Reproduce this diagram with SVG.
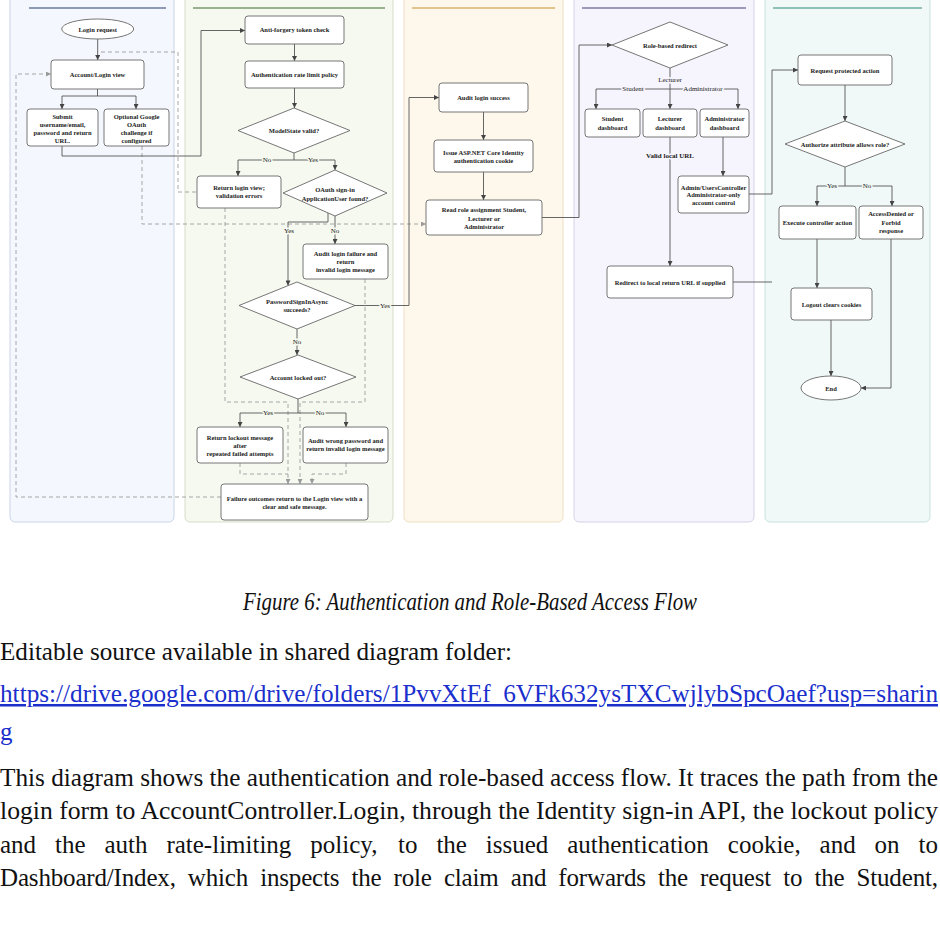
<svg xmlns="http://www.w3.org/2000/svg" width="940" height="947" viewBox="0 0 940 947">
<defs>
<marker id="a" viewBox="0 0 6 6" refX="6" refY="3" markerWidth="5.5" markerHeight="5" markerUnits="userSpaceOnUse" orient="auto"><path d="M0,0 L6,3 L0,6 z" fill="#444"/></marker>
<marker id="ag" viewBox="0 0 6 6" refX="6" refY="3" markerWidth="5.5" markerHeight="5" markerUnits="userSpaceOnUse" orient="auto"><path d="M0,0 L6,3 L0,6 z" fill="#9a9a9a"/></marker>
</defs>
<style>
.t{font-family:"Liberation Serif","Times New Roman",serif;font-size:6.5px;font-weight:bold;fill:#222;text-anchor:middle}
.lb{font-family:"Liberation Serif","Times New Roman",serif;font-size:7px;fill:#222;text-anchor:middle;paint-order:stroke;stroke-width:3;stroke-linejoin:round}
.n{fill:#fff;stroke:#666;stroke-width:0.9}
.e{fill:none;stroke:#555;stroke-width:0.9}
.d{fill:none;stroke:#9c9c9c;stroke-width:0.9;stroke-dasharray:4 3}
.body{font-family:"Liberation Serif","Times New Roman",serif;font-size:25px;fill:#111}
.link{fill:#1a2fcc;text-decoration:underline}
</style>
<g id="lanes">
<rect x="10" y="-10" width="164" height="532" rx="5" fill="#f4f7fd" stroke="#c9d5e8"/>
<line x1="29" y1="8" x2="166" y2="8" stroke="#24406a" stroke-width="1.2"/>
<rect x="185" y="-10" width="208" height="532" rx="5" fill="#f6f9f0" stroke="#d5ddc8"/>
<line x1="193" y1="8" x2="385" y2="8" stroke="#3c6a2c" stroke-width="1.2"/>
<rect x="404" y="-10" width="159" height="532" rx="5" fill="#fdf7ec" stroke="#eedfc2"/>
<line x1="412" y1="8" x2="555" y2="8" stroke="#c8902c" stroke-width="1.2"/>
<rect x="574" y="-10" width="180" height="532" rx="5" fill="#f6f4fc" stroke="#d8d2ec"/>
<line x1="582" y1="8" x2="746" y2="8" stroke="#463c7c" stroke-width="1.2"/>
<rect x="765" y="-10" width="165" height="532" rx="5" fill="#f1f9f8" stroke="#c6e3df"/>
<line x1="773" y1="8" x2="922" y2="8" stroke="#2f8a7c" stroke-width="1.2"/>
</g>
<g id="connectors">
<path class="d" d="M196,192 H178 V52 H97.7"/>
<path class="d" d="M142,146 V224 H426" marker-end="url(#ag)"/>
<path class="d" d="M221,497 H16 V74 H51" marker-end="url(#ag)"/>
<path class="d" d="M225,208 V402 H288 V484" marker-end="url(#ag)"/>
<path class="d" d="M365,279 V402 H300 V484" marker-end="url(#ag)"/>
<path class="d" d="M240,463 V474 H288"/>
<path class="d" d="M346,463 V474 H312 V484" marker-end="url(#ag)"/>
<path class="e" d="M97.7,39 V60" marker-end="url(#a)"/>
<path class="e" d="M97.5,89 V96 H62 V109" marker-end="url(#a)"/>
<path class="e" d="M97.5,96 H136 V109" marker-end="url(#a)"/>
<path class="e" d="M62,146 V156 H201 V30.5 H245" marker-end="url(#a)"/>
<path class="e" d="M294.5,44 V61" marker-end="url(#a)"/>
<path class="e" d="M294.5,88 V108" marker-end="url(#a)"/>
<path class="e" d="M294,152.5 V160 H238 V176" marker-end="url(#a)"/>
<path class="e" d="M294,160 H335 V170" marker-end="url(#a)"/>
<path class="e" d="M328,213 V222 H288 V285.5" marker-end="url(#a)"/>
<path class="e" d="M335,216 V244" marker-end="url(#a)"/>
<path class="e" d="M355,305.5 H409 V97.5 H439" marker-end="url(#a)"/>
<path class="e" d="M297,329 V355" marker-end="url(#a)"/>
<path class="e" d="M298,399 V413 H240 V427" marker-end="url(#a)"/>
<path class="e" d="M298,413 H346 V427" marker-end="url(#a)"/>
<path class="e" d="M483.5,112 V140" marker-end="url(#a)"/>
<path class="e" d="M483.5,172 V200" marker-end="url(#a)"/>
<path class="e" d="M542,217.5 H579 V45 H612" marker-end="url(#a)"/>
<path class="e" d="M670,68 V89 H596 V109" marker-end="url(#a)"/>
<path class="e" d="M670,89 V109" marker-end="url(#a)"/>
<path class="e" d="M670,89 H738 V109" marker-end="url(#a)"/>
<path class="e" d="M670,137 V266" marker-end="url(#a)"/>
<path class="e" d="M723,137 V176" marker-end="url(#a)"/>
<path class="e" d="M749,194 H772 V70 H798" marker-end="url(#a)"/>
<path class="e" d="M733,282 H772"/>
<path class="e" d="M845,85 V121" marker-end="url(#a)"/>
<path class="e" d="M845,167 V186 H817 V206" marker-end="url(#a)"/>
<path class="e" d="M845,186 H892 V206" marker-end="url(#a)"/>
<path class="e" d="M817,239 V288" marker-end="url(#a)"/>
<path class="e" d="M831,320 V376" stroke="#222" stroke-width="1.3" marker-end="url(#a)"/>
<path class="e" d="M891,239 V388 H861" marker-end="url(#a)"/>
<text class="lb" x="267" y="162.3" stroke="#f6f9f0">No</text>
<text class="lb" x="313" y="162.3" stroke="#f6f9f0">Yes</text>
<text class="lb" x="289" y="233.3" stroke="#f6f9f0">Yes</text>
<text class="lb" x="335" y="233.3" stroke="#f6f9f0">No</text>
<text class="lb" x="385" y="307.8" stroke="#f6f9f0">Yes</text>
<text class="lb" x="297" y="344.3" stroke="#f6f9f0">No</text>
<text class="lb" x="268" y="415.3" stroke="#f6f9f0">Yes</text>
<text class="lb" x="320" y="415.3" stroke="#f6f9f0">No</text>
<text class="lb" x="670" y="82.3" stroke="#f6f4fc">Lecturer</text>
<text class="lb" x="633" y="91.3" stroke="#f6f4fc">Student</text>
<text class="lb" x="703" y="91.3" stroke="#f6f4fc">Administrator</text>
<text class="lb" x="670" y="158.3" stroke="#f6f4fc" font-weight="bold" font-size="6.5">Valid local URL</text>
<text class="lb" x="832" y="188.3" stroke="#f1f9f8">Yes</text>
<text class="lb" x="867" y="188.3" stroke="#f1f9f8">No</text>
</g>
<g id="login-request"><ellipse class="n" cx="97.7" cy="29" rx="36" ry="10"/><text class="t" x="97.7" y="31.5">Login request</text></g>
<g id="account-login-view"><rect class="n" x="51" y="60" width="93" height="29" rx="3"/><text class="t" x="97.5" y="77">Account/Login view</text></g>
<g id="submit"><rect class="n" x="27" y="109" width="71" height="37" rx="3"/><text class="t" x="62.5" y="119.2">Submit<tspan x="62.5" y="127">username/email,</tspan><tspan x="62.5" y="134.8">password and return</tspan><tspan x="62.5" y="142.6">URL.</tspan></text></g>
<g id="google"><rect class="n" x="104" y="109" width="65" height="37" rx="3"/><text class="t" x="136.5" y="119.2">Optional Google<tspan x="136.5" y="127">OAuth</tspan><tspan x="136.5" y="134.8">challenge if</tspan><tspan x="136.5" y="142.6">configured</tspan></text></g>
<g id="antiforgery"><rect class="n" x="245" y="16" width="99" height="28" rx="3"/><text class="t" x="294.5" y="32.3">Anti-forgery token check</text></g>
<g id="ratelimit"><rect class="n" x="245" y="61" width="99" height="27" rx="3"/><text class="t" x="294.5" y="76.8">Authentication rate limit policy</text></g>
<g id="modelstate"><path class="n" d="M294,108 L350,130.5 L294,153 L238,130.5 Z"/><text class="t" x="294" y="132.5">ModelState valid?</text></g>
<g id="return-login"><rect class="n" x="197" y="176" width="84" height="32" rx="3"/><text class="t" x="239" y="189.5">Return login view;<tspan x="239" y="198">validation errors</tspan></text></g>
<g id="oauth"><path class="n" d="M335,170 L387,193 L335,216 L283,193 Z"/><text class="t" x="335" y="192">OAuth sign-in<tspan x="335" y="200.5">ApplicationUser found?</tspan></text></g>
<g id="audit-failure"><rect class="n" x="303" y="244" width="85" height="35" rx="3"/><text class="t" x="345.5" y="256">Audit login failure and<tspan x="345.5" y="264">return</tspan><tspan x="345.5" y="272">invalid login message</tspan></text></g>
<g id="passwordsignin"><path class="n" d="M297,282 L355,305.5 L297,329 L239,305.5 Z"/><text class="t" x="297" y="304">PasswordSignInAsync<tspan x="297" y="311.5">succeeds?</tspan></text></g>
<g id="lockedout"><path class="n" d="M298,355 L356,377 L298,399 L240,377 Z"/><text class="t" x="298" y="380">Account locked out?</text></g>
<g id="lockout-msg"><rect class="n" x="197" y="427" width="86" height="36" rx="3"/><text class="t" x="240" y="440">Return lockout message<tspan x="240" y="448">after</tspan><tspan x="240" y="456">repeated failed attempts</tspan></text></g>
<g id="audit-wrong"><rect class="n" x="303" y="427" width="85" height="36" rx="3"/><text class="t" x="345.5" y="443">Audit wrong password and<tspan x="345.5" y="451">return invalid login message</tspan></text></g>
<g id="failure"><rect class="n" x="221" y="484" width="147" height="36" rx="3"/><text class="t" x="294.5" y="500.5">Failure outcomes return to the Login view with a<tspan x="294.5" y="509">clear and safe message.</tspan></text></g>
<g id="audit-success"><rect class="n" x="439" y="83" width="89" height="29" rx="3"/><text class="t" x="483.5" y="100">Audit login success</text></g>
<g id="issue-cookie"><rect class="n" x="434" y="140" width="99" height="32" rx="3"/><text class="t" x="483.5" y="154.5">Issue ASP.NET Core Identity<tspan x="483.5" y="162.5">authentication cookie</tspan></text></g>
<g id="read-role"><rect class="n" x="426" y="200" width="116" height="35" rx="3"/><text class="t" x="484" y="212.3">Read role assignment Student,<tspan x="484" y="220.5">Lecturer or</tspan><tspan x="484" y="229">Administrator</tspan></text></g>
<g id="role-redirect"><path class="n" d="M670,22 L728,45 L670,68 L612,45 Z"/><text class="t" x="670" y="47.5">Role-based redirect</text></g>
<g id="student-dash"><rect class="n" x="585" y="109" width="55" height="28" rx="3"/><text class="t" x="612.5" y="121.3">Student<tspan x="612.5" y="130">dashboard</tspan></text></g>
<g id="lecturer-dash"><rect class="n" x="643" y="109" width="54" height="28" rx="3"/><text class="t" x="670" y="121.3">Lecturer<tspan x="670" y="130">dashboard</tspan></text></g>
<g id="admin-dash"><rect class="n" x="700" y="109" width="49" height="28" rx="3"/><text class="t" x="724.5" y="121.3">Administrator<tspan x="724.5" y="130">dashboard</tspan></text></g>
<g id="admin-users"><rect class="n" x="678" y="176" width="71" height="37" rx="3"/><text class="t" x="713.5" y="189.5">Admin/UsersController<tspan x="713.5" y="197.3">Administrator-only</tspan><tspan x="713.5" y="205">account control</tspan></text></g>
<g id="redirect-local"><rect class="n" x="607" y="266" width="126" height="32" rx="3"/><text class="t" x="670" y="284.5">Redirect to local return URL if supplied</text></g>
<g id="request-protected"><rect class="n" x="798" y="55" width="94" height="30" rx="3"/><text class="t" x="845" y="72.5">Request protected action</text></g>
<g id="authorize"><path class="n" d="M845,121 L905,144 L845,167 L785,144 Z"/><text class="t" x="845" y="146.5">Authorize attribute allows role?</text></g>
<g id="execute"><rect class="n" x="779" y="206" width="77" height="33" rx="3"/><text class="t" x="817.5" y="225">Execute controller action</text></g>
<g id="access-denied"><rect class="n" x="859" y="206" width="64" height="33" rx="3"/><text class="t" x="891" y="216">AccessDenied or<tspan x="891" y="224.5">Forbid</tspan><tspan x="891" y="233">response</tspan></text></g>
<g id="logout"><rect class="n" x="791" y="288" width="81" height="32" rx="3"/><text class="t" x="831.5" y="306.5">Logout clears cookies</text></g>
<g id="end"><ellipse class="n" cx="831" cy="388" rx="30" ry="12"/><text class="t" x="831" y="390.5">End</text></g>
<g id="caption">
<text class="body" x="243" y="610" font-size="20.8" font-style="italic" textLength="454" lengthAdjust="spacingAndGlyphs">Figure 6: Authentication and Role-Based Access Flow</text>
<text class="body" x="0" y="660" textLength="512" lengthAdjust="spacingAndGlyphs">Editable source available in shared diagram folder:</text>
<text class="body link" x="0" y="702" textLength="938" lengthAdjust="spacingAndGlyphs">https://drive.google.com/drive/folders/1PvvXtEf_6VFk632ysTXCwjlybSpcOaef?usp=sharin</text>
<text class="body link" x="0" y="740">g</text>
<text class="body" x="0" y="786" textLength="938" lengthAdjust="spacingAndGlyphs">This diagram shows the authentication and role-based access flow. It traces the path from the</text>
<text class="body" x="0" y="819" textLength="938" lengthAdjust="spacingAndGlyphs">login form to AccountController.Login, through the Identity sign-in API, the lockout policy</text>
<text class="body" y="853"><tspan x="0">and</tspan><tspan x="55">the</tspan><tspan x="104.5">auth</tspan><tspan x="166.4">rate-limiting</tspan><tspan x="310.3">policy,</tspan><tspan x="398">to</tspan><tspan x="436.4">the</tspan><tspan x="485.8">issued</tspan><tspan x="567.2">authentication</tspan><tspan x="727.8">cookie,</tspan><tspan x="819.6">and</tspan><tspan x="874.6">on</tspan><tspan x="918.5">to</tspan></text>
<text class="body" x="0" y="886" textLength="938" lengthAdjust="spacing" word-spacing="6">Dashboard/Index, which inspects the role claim and forwards the request to the Student,</text>
</g>
</svg>
